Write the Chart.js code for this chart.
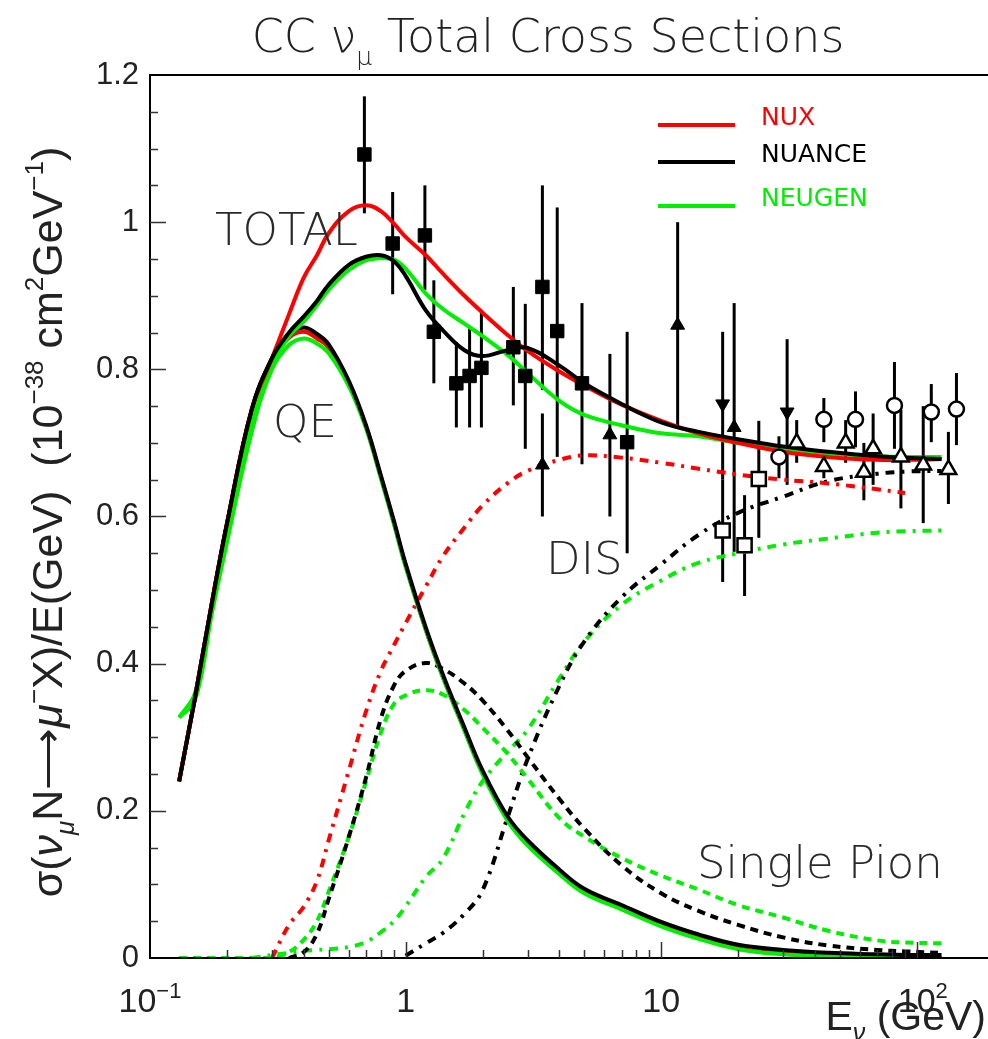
<!DOCTYPE html>
<html>
<head>
<meta charset="utf-8">
<title>CC numu total cross sections</title>
<script src="https://cdn.jsdelivr.net/npm/chart.js@4.4.1/dist/chart.umd.min.js"></script>
<style>
  html, body { margin: 0; padding: 0; background: #fff; }
  #wrap { width: 988px; height: 1039px; }
</style>
</head>
<body>
<div id="wrap"><canvas id="myChart" width="988" height="1039"></canvas></div>
<script>
// energy grid (GeV) shared by all model curves
const energy = [0.13, 0.15, 0.175, 0.2, 0.25, 0.3, 0.35, 0.4, 0.45, 0.5, 0.6, 0.7, 0.8, 0.9, 1.0, 1.2, 1.4, 1.7, 2.0, 2.5, 3.0, 4.0, 5.0, 7.0, 10, 14, 20, 30, 45, 70, 90, 125];

// sigma/E, 10^-38 cm^2/GeV
const nuxTotal     = [0.24, 0.354, 0.484, 0.59, 0.745, 0.815, 0.875, 0.925, 0.955, 0.985, 1.015, 1.023, 1.015, 0.998, 0.98, 0.955, 0.93, 0.90, 0.877, 0.847, 0.825, 0.797, 0.778, 0.752, 0.73, 0.713, 0.70, 0.688, 0.681, 0.677, 0.677, 0.678];
const nuanceTotal  = [0.24, 0.354, 0.484, 0.59, 0.745, 0.815, 0.85, 0.872, 0.893, 0.915, 0.942, 0.953, 0.955, 0.947, 0.927, 0.88, 0.853, 0.826, 0.818, 0.826, 0.829, 0.805, 0.781, 0.753, 0.728, 0.715, 0.705, 0.695, 0.688, 0.682, 0.68, 0.678];
const neugenTotal  = [0.327, 0.36, 0.48, 0.575, 0.725, 0.805, 0.845, 0.865, 0.887, 0.908, 0.935, 0.948, 0.951, 0.949, 0.937, 0.903, 0.882, 0.862, 0.845, 0.82, 0.795, 0.757, 0.738, 0.724, 0.713, 0.709, 0.70, 0.692, 0.686, 0.682, 0.681, 0.681];

const nuxQE        = [0.24, 0.354, 0.484, 0.59, 0.745, 0.812, 0.843, 0.851, 0.842, 0.83, 0.78, 0.722, 0.654, 0.592, 0.533, 0.446, 0.382, 0.31, 0.252, 0.19, 0.157, 0.118, 0.092, 0.07, 0.047, 0.03, 0.013, 0.006, 0.002, 0, 0, 0];
const nuanceQE     = [0.24, 0.354, 0.484, 0.59, 0.745, 0.815, 0.848, 0.857, 0.848, 0.834, 0.784, 0.724, 0.656, 0.594, 0.536, 0.449, 0.385, 0.313, 0.255, 0.193, 0.16, 0.12, 0.094, 0.072, 0.049, 0.032, 0.018, 0.011, 0.007, 0.005, 0.004, 0.004];
const neugenQE     = [0.327, 0.35, 0.47, 0.565, 0.715, 0.80, 0.833, 0.842, 0.835, 0.822, 0.777, 0.72, 0.652, 0.59, 0.532, 0.446, 0.381, 0.309, 0.25, 0.187, 0.153, 0.114, 0.088, 0.066, 0.043, 0.026, 0.012, 0.005, 0.002, 0, 0, 0];

const nuanceSPi    = [null, null, null, null, null, null, 0, 0.008, 0.033, 0.08, 0.165, 0.245, 0.325, 0.37, 0.39, 0.401, 0.393, 0.373, 0.35, 0.31, 0.273, 0.216, 0.176, 0.126, 0.088, 0.064, 0.045, 0.028, 0.017, 0.011, 0.009, 0.007];
const neugenSPi    = [0, 0, 0, 0, 0, 0, 0.008, 0.025, 0.05, 0.09, 0.165, 0.24, 0.306, 0.345, 0.357, 0.364, 0.358, 0.337, 0.313, 0.278, 0.244, 0.19, 0.165, 0.136, 0.112, 0.093, 0.072, 0.055, 0.037, 0.024, 0.021, 0.02];

const nuxDIS       = [null, null, null, null, null, 0, 0.045, 0.07, 0.105, 0.16, 0.255, 0.335, 0.39, 0.425, 0.455, 0.505, 0.546, 0.585, 0.615, 0.645, 0.662, 0.677, 0.683, 0.68, 0.673, 0.665, 0.657, 0.65, 0.645, 0.637, 0.632, null];
const nuanceDIS    = [null, null, null, null, null, null, null, null, null, null, null, null, null, null, 0.003, 0.02, 0.034, 0.06, 0.092, 0.19, 0.27, 0.37, 0.43, 0.49, 0.535, 0.575, 0.605, 0.627, 0.648, 0.658, 0.661, 0.662];
const neugenDIS    = [null, null, null, null, 0, 0.004, 0.007, 0.01, 0.011, 0.012, 0.015, 0.022, 0.035, 0.05, 0.07, 0.11, 0.135, 0.197, 0.24, 0.28, 0.31, 0.38, 0.43, 0.48, 0.513, 0.537, 0.55, 0.562, 0.57, 0.578, 0.58, 0.581];

// measurements: energy, value, bar low, bar high
const sqE   = [0.69, 0.89, 1.19, 1.29, 1.58, 1.78, 1.98, 2.64, 2.94, 3.43, 3.92, 4.9, 7.36];
const sqV   = [1.092, 0.971, 0.982, 0.851, 0.781, 0.791, 0.802, 0.830, 0.791, 0.912, 0.852, 0.781, 0.701];
const sqLo  = [1.012, 0.902, 0.908, 0.781, 0.721, 0.721, 0.721, 0.751, 0.692, 0.772, 0.681, 0.671, 0.550];
const sqHi  = [1.171, 1.041, 1.05, 0.921, 0.837, 0.857, 0.878, 0.912, 0.889, 1.05, 1.02, 0.89, 0.851];

const triE  = [3.43, 6.3, 11.6, 19.3];
const triV  = [0.670, 0.711, 0.860, 0.721];
const triLo = [0.600, 0.600, 0.721, 0.552];
const triHi = [0.740, 0.821, 1.0, 0.89];

const dtriE  = [17.4, 31.1];
const dtriV  = [0.753, 0.742];
const dtriLo = [0.65, 0.643];
const dtriHi = [0.851, 0.841];

const osqE  = [17.4, 21.2, 24.1];
const osqV  = [0.581, 0.561, 0.651];
const osqLo = [0.511, 0.492, 0.571];
const osqHi = [0.65, 0.629, 0.730];

const circE  = [28.9, 43.3, 57.6, 81.8, 114, 143];
const circV  = [0.681, 0.732, 0.732, 0.751, 0.742, 0.746];
const circLo = [0.652, 0.701, 0.694, 0.692, 0.701, 0.697];
const circHi = [0.709, 0.761, 0.770, 0.81, 0.78, 0.795];

const otriE  = [33.9, 43.3, 52.7, 62.1, 67.5, 86.7, 106, 133];
const otriV  = [0.700, 0.668, 0.700, 0.660, 0.692, 0.681, 0.670, 0.664];
const otriLo = [0.673, 0.652, 0.673, 0.622, 0.643, 0.611, 0.591, 0.617];
const otriHi = [0.731, 0.68, 0.731, 0.70, 0.74, 0.745, 0.75, 0.715];

const xMajor = [0.1, 1, 10, 100];
const yLabels = [0, 0.2, 0.4, 0.6, 0.8, 1, 1.2];

const RED = "#ff0000";
const GREEN = "#00ee00";
const BLACK = "#000000";
const dashSP = [8, 6];
const dashDIS = [9, 7, 3, 7];

function curve(vals) {
  var pts = [];
  for (var i = 0; i < energy.length; i++) {
    if (vals[i] !== null) pts.push({ x: energy[i], y: vals[i] });
  }
  return pts;
}

function lineSet(label, vals, color, dash, order) {
  return {
    type: "line",
    label: label,
    data: curve(vals),
    borderColor: color,
    borderWidth: 4,
    borderDash: dash || [],
    pointRadius: 0,
    tension: 0.4,
    fill: false,
    order: order,
  };
}

function markerSet(E, v, lo, hi, style, filled, radius, rot) {
  return {
    type: "scatter",
    data: E.map(function (e, i) { return { x: e, y: v[i] }; }),
    errLo: lo,
    errHi: hi,
    pointStyle: style,
    pointRadius: radius,
    pointHoverRadius: radius,
    pointRotation: rot || 0,
    pointBackgroundColor: filled ? "#000" : "#fff",
    pointBorderColor: "#000",
    pointBorderWidth: filled ? 1 : 2.5,
    showLine: false,
    order: 0,
  };
}

// draw a run of text pieces [text, scale, dy, italic]
function drawRuns(ctx, runs, size, family, x, y, align, weight) {
  var w = weight ? weight + " " : "";
  var widths = runs.map(function (r) {
    ctx.font = (r[3] ? "italic " : "") + w + Math.round(size * r[1]) + "px " + family;
    return ctx.measureText(r[0]).width;
  });
  var total = widths.reduce(function (a, b) { return a + b; }, 0);
  var cx = align === "center" ? x - total / 2 : align === "right" ? x - total : x;
  ctx.textAlign = "left";
  ctx.textBaseline = "alphabetic";
  runs.forEach(function (r, i) {
    ctx.font = (r[3] ? "italic " : "") + w + Math.round(size * r[1]) + "px " + family;
    ctx.fillText(r[0], cx, y + r[2] * size);
    cx += widths[i];
  });
  return total;
}

const errorBars = {
  id: "errorBars",
  beforeDatasetsDraw(chart) {
    var ctx = chart.ctx, xs = chart.scales.x, ys = chart.scales.y;
    ctx.save();
    ctx.strokeStyle = "#000";
    ctx.lineWidth = 3;
    chart.data.datasets.forEach(function (ds) {
      if (!ds.errLo) return;
      ds.data.forEach(function (p, i) {
        var px = xs.getPixelForValue(p.x);
        ctx.beginPath();
        ctx.moveTo(px, ys.getPixelForValue(ds.errLo[i]));
        ctx.lineTo(px, ys.getPixelForValue(ds.errHi[i]));
        ctx.stroke();
      });
    });
    ctx.restore();
  },
};

const frame = {
  id: "frame",
  beforeDraw(chart) {
    var ctx = chart.ctx;
    ctx.save();
    ctx.fillStyle = "#fff";
    ctx.fillRect(0, 0, chart.width, chart.height);
    ctx.restore();
  },
  afterDraw(chart) {
    var ctx = chart.ctx, xs = chart.scales.x, ys = chart.scales.y, a = chart.chartArea;
    var L = a.left, R = a.right, T = a.top, B = a.bottom;
    ctx.save();

    // frame
    ctx.strokeStyle = "#000";
    ctx.lineWidth = 2;
    ctx.beginPath();
    ctx.moveTo(R, T); ctx.lineTo(L, T); ctx.lineTo(L, B); ctx.lineTo(R, B);
    ctx.stroke();

    // y ticks every 0.05, long every 0.2
    ctx.strokeStyle = "#333";
    ctx.lineWidth = 1.5;
    for (var k = 1; k < 24; k++) {
      var py = Math.round(ys.getPixelForValue(k * 0.05)) + 0.5;
      var len = k % 4 === 0 ? 16 : 8;
      ctx.beginPath(); ctx.moveTo(L, py); ctx.lineTo(L + len, py); ctx.stroke();
    }
    // x ticks, log
    xMajor.forEach(function (d) {
      for (var m = 1; m <= 9; m++) {
        var v = d * m;
        if (v <= xs.min || v > xs.max) continue;
        var px = Math.round(xs.getPixelForValue(v)) + 0.5;
        var len = m === 1 ? 16 : 8;
        ctx.beginPath(); ctx.moveTo(px, B); ctx.lineTo(px, B - len); ctx.stroke();
      }
    });

    // y tick labels
    ctx.fillStyle = "#222";
    ctx.font = "31px 'Liberation Sans', Arial, sans-serif";
    ctx.textAlign = "right";
    ctx.textBaseline = "middle";
    yLabels.forEach(function (v) {
      ctx.fillText(String(v), 139, ys.getPixelForValue(v));
    });

    // x tick labels
    var fam = "'Liberation Sans', Arial, sans-serif";
    var xl = B + 54;
    drawRuns(ctx, [["10", 1, 0], ["\u22121", 0.65, -0.42]], 34, fam, xs.getPixelForValue(0.1), xl, "center");
    drawRuns(ctx, [["1", 1, 0]], 34, fam, xs.getPixelForValue(1), xl, "center");
    drawRuns(ctx, [["10", 1, 0]], 34, fam, xs.getPixelForValue(10), xl, "center");
    drawRuns(ctx, [["10", 1, 0], ["2", 0.65, -0.42]], 34, fam, xs.getPixelForValue(100) + 6, xl, "center");

    // axis titles
    drawRuns(ctx, [["E", 1, 0], ["\u03bd", 0.6, 0.28, true], [" (GeV)", 1, 0]], 41, fam, 986, 1030, "right");

    var yRuns = [
      ["\u03c3(", 1, 0], ["\u03bd", 1, 0, true], ["\u03bc", 0.6, 0.28, true], ["N", 1, 0],
      ["\u27f6", 1, 0], ["\u03bc", 1, 0, true], ["\u2212", 0.6, -0.45], ["X)/E(GeV)  (10", 1, 0],
      ["\u221238", 0.6, -0.45], [" cm", 1, 0], ["2", 0.6, -0.45], ["GeV", 1, 0], ["\u22121", 0.6, -0.45], [")", 1, 0],
    ];
    ctx.save();
    ctx.translate(62, 522);
    ctx.rotate(-Math.PI / 2);
    drawRuns(ctx, yRuns, 43, fam, 0, 0, "center");
    ctx.restore();

    // title
    var ann = "'DejaVu Sans', sans-serif";
    ctx.fillStyle = "#222";
    drawRuns(ctx, [["CC ", 1, 0], ["\u03bd", 1, 0], ["\u03bc", 0.55, 0.28], [" Total Cross Sections", 1, 0]], 46, ann, 548, 52, "center", 200);

    // annotations
    ctx.fillStyle = "#2a2a2a";
    ctx.textAlign = "left";
    ctx.textBaseline = "alphabetic";
    ctx.font = "200 45px " + ann;
    ctx.fillText("TOTAL", 215, 245);
    ctx.fillText("QE", 273, 437);
    ctx.fillText("DIS", 546, 574);
    ctx.fillText("Single Pion", 697, 878);

    // legend
    var leg = [["NUX", RED, 125], ["NUANCE", BLACK, 162], ["NEUGEN", GREEN, 206]];
    ctx.font = "25px " + ann;
    leg.forEach(function (l) {
      ctx.strokeStyle = l[1];
      ctx.lineWidth = 4;
      ctx.beginPath(); ctx.moveTo(658, l[2]); ctx.lineTo(735, l[2]); ctx.stroke();
      ctx.fillStyle = l[1];
      ctx.fillText(l[0], 761, l[2]);
    });

    ctx.restore();
  },
};

var ctx = document.getElementById("myChart");

new Chart(ctx, {
  data: {
    datasets: [
      markerSet(sqE, sqV, sqLo, sqHi, "rect", true, 9.5),
      markerSet(triE, triV, triLo, triHi, "triangle", true, 8),
      markerSet(dtriE, dtriV, dtriLo, dtriHi, "triangle", true, 8, 180),
      markerSet(osqE, osqV, osqLo, osqHi, "rect", false, 10),
      markerSet(circE, circV, circLo, circHi, "circle", false, 7.5),
      markerSet(otriE, otriV, otriLo, otriHi, "triangle", false, 9),
      lineSet("NUX total", nuxTotal, RED, null, 2),
      lineSet("NUANCE total", nuanceTotal, BLACK, null, 1),
      lineSet("NEUGEN total", neugenTotal, GREEN, null, 2),
      lineSet("NUANCE QE", nuanceQE, BLACK, null, 3),
      lineSet("NUX QE", nuxQE, RED, null, 4),
      lineSet("NEUGEN QE", neugenQE, GREEN, null, 3),
      lineSet("NUANCE 1pi", nuanceSPi, BLACK, dashSP, 5),
      lineSet("NEUGEN 1pi", neugenSPi, GREEN, dashSP, 6),
      lineSet("NUX DIS", nuxDIS, RED, dashDIS, 6),
      lineSet("NUANCE DIS", nuanceDIS, BLACK, dashDIS, 6),
      lineSet("NEUGEN DIS", neugenDIS, GREEN, dashDIS, 6),
    ],
  },
  options: {
    responsive: false,
    animation: false,
    devicePixelRatio: 1,
    layout: { autoPadding: false, padding: { left: 150, top: 75, right: 0, bottom: 81 } },
    plugins: { legend: { display: false }, tooltip: { enabled: false }, title: { display: false } },
    scales: {
      x: { type: "logarithmic", min: 0.1, max: 190, display: false },
      y: { type: "linear", min: 0, max: 1.2, display: false },
    },
  },
  plugins: [errorBars, frame],
});
</script>
</body>
</html>
